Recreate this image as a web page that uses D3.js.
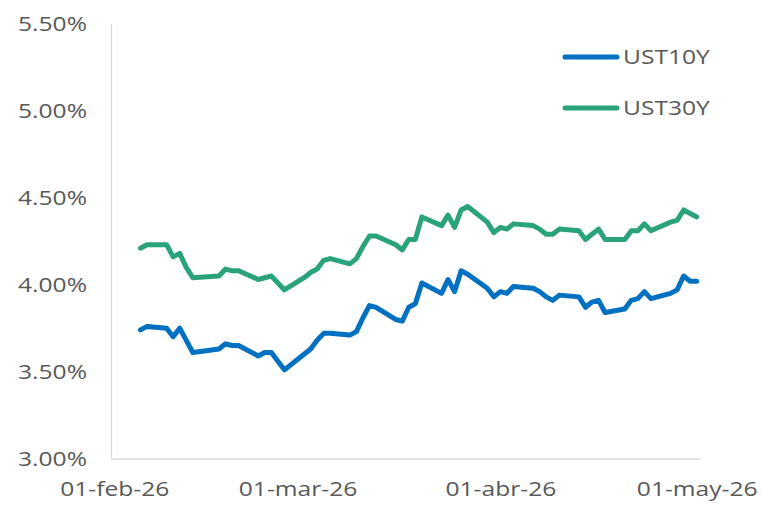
<!DOCTYPE html>
<html>
<head>
<meta charset="utf-8">
<script src="https://cdn.jsdelivr.net/npm/d3@7"></script>
<style>
  html, body { margin: 0; padding: 0; background: #ffffff; }
  svg { display: block; }
  text { font-family: "Open Sans", Lato, "DejaVu Sans", sans-serif; }
</style>
</head>
<body>
<svg id="chart" width="761" height="507"></svg>
<script>
const dates = ["2026-02-05","2026-02-06","2026-02-09","2026-02-10","2026-02-11","2026-02-12","2026-02-13","2026-02-17","2026-02-18","2026-02-19","2026-02-20","2026-02-23","2026-02-24","2026-02-25","2026-02-26","2026-02-27",
"2026-03-02","2026-03-03","2026-03-04","2026-03-05","2026-03-06","2026-03-09","2026-03-10","2026-03-11","2026-03-12","2026-03-13","2026-03-16","2026-03-17","2026-03-18","2026-03-19","2026-03-20","2026-03-23","2026-03-24","2026-03-25","2026-03-26","2026-03-27","2026-03-30","2026-03-31",
"2026-04-01","2026-04-02","2026-04-03","2026-04-06","2026-04-07","2026-04-08","2026-04-09","2026-04-10","2026-04-13","2026-04-14","2026-04-15","2026-04-16","2026-04-17","2026-04-20","2026-04-21","2026-04-22","2026-04-23","2026-04-24","2026-04-27","2026-04-28","2026-04-29","2026-04-30",
"2026-05-01"];

const ust10y = [3.74,3.76,3.75,3.70,3.75,3.68,3.61,3.63,3.66,3.65,3.65,3.59,3.61,3.61,3.56,3.51,
3.60,3.63,3.68,3.72,3.72,3.71,3.73,3.81,3.88,3.87,3.80,3.79,3.87,3.89,4.01,3.95,4.03,3.96,4.08,4.06,3.98,3.93,
3.96,3.95,3.99,3.98,3.96,3.93,3.91,3.94,3.93,3.87,3.90,3.91,3.84,3.86,3.91,3.92,3.96,3.92,3.95,3.97,4.05,4.02,
4.02];

const ust30y = [4.21,4.23,4.23,4.16,4.18,4.10,4.04,4.05,4.09,4.08,4.08,4.03,4.04,4.05,4.01,3.97,
4.04,4.07,4.09,4.14,4.15,4.12,4.15,4.22,4.28,4.28,4.23,4.20,4.26,4.26,4.39,4.34,4.40,4.33,4.43,4.45,4.36,4.30,
4.33,4.32,4.35,4.34,4.32,4.29,4.29,4.32,4.31,4.26,4.29,4.32,4.26,4.26,4.31,4.31,4.35,4.31,4.36,4.37,4.43,4.41,
4.39];

const seriesNames = ["UST10Y", "UST30Y"];
const seriesColors = ["#0070C0", "#2BA37A"];

const yTicks = [3.0, 3.5, 4.0, 4.5, 5.0, 5.5];
const xTickDates = ["2026-02-01", "2026-03-01", "2026-04-01", "2026-05-01"];
const monthNames = ["ene","feb","mar","abr","may","jun","jul","ago","sep","oct","nov","dic"];

const svg = d3.select("#chart");
const parse = d3.utcParse("%Y-%m-%d");

const plotLeft = 111, plotRight = 700, plotTop = 24, plotBottom = 458.5;
const fontSize = "20.5px";
const stretch = 1.2;

function stretchText(sel) {
  sel.each(function() {
    const t = d3.select(this);
    const x0 = +t.attr("x") || 0;
    t.attr("transform", `translate(${x0},0) scale(${stretch},1) translate(${-x0},0)`);
  });
}

// Date axis in day slots: first slot (1 Feb) starts half a day before it
const x = d3.scaleUtc()
  .domain([d3.utcHour.offset(parse("2026-02-01"), -12), d3.utcHour.offset(parse("2026-05-01"), 12)])
  .range([plotLeft, plotRight]);

const y = d3.scaleLinear().domain([3.0, 5.5]).range([plotBottom, plotTop]);

const axisColor = "#d9d9d9";
const textColor = "#595959";

// Y axis
const yAxis = d3.axisLeft(y)
  .tickValues(yTicks)
  .tickFormat(d => d.toFixed(2) + "%")
  .tickSize(0)
  .tickSizeOuter(0)
  .tickPadding(24);
const gy = svg.append("g").attr("transform", `translate(${plotLeft},0)`).call(yAxis);
gy.select(".domain").attr("stroke", axisColor).attr("stroke-width", 1.3);
gy.selectAll("text").attr("fill", textColor).style("font-size", fontSize)
  .style("font-family", "'Open Sans', Lato, sans-serif").call(stretchText);

// X axis
const xAxis = d3.axisBottom(x)
  .tickValues(xTickDates.map(parse))
  .tickFormat(d => d3.utcFormat("%d")(d) + "-" + monthNames[d.getUTCMonth()] + "-" + d3.utcFormat("%y")(d))
  .tickSize(0)
  .tickSizeOuter(0)
  .tickPadding(23);
const gx = svg.append("g").attr("transform", `translate(0,${plotBottom})`).call(xAxis);
gx.select(".domain").attr("stroke", axisColor).attr("stroke-width", 1.3);
gx.selectAll("text").attr("fill", textColor).style("font-size", fontSize)
  .style("font-family", "'Open Sans', Lato, sans-serif").call(stretchText);

// Lines
const parsedDates = dates.map(parse);
const line = d3.line()
  .x((d, i) => x(parsedDates[i]))
  .y(d => y(d));

[ust10y, ust30y].forEach((vals, k) => {
  svg.append("path")
    .datum(vals)
    .attr("d", line)
    .attr("fill", "none")
    .attr("stroke", seriesColors[k])
    .attr("stroke-width", 5)
    .attr("stroke-linejoin", "round")
    .attr("stroke-linecap", "round");
});

// Legend
const legend = svg.append("g");
seriesNames.forEach((name, k) => {
  const ly = 57 + k * 51;
  legend.append("line")
    .attr("x1", 565).attr("x2", 617)
    .attr("y1", ly).attr("y2", ly)
    .attr("stroke", seriesColors[k])
    .attr("stroke-width", 5)
    .attr("stroke-linecap", "round");
  legend.append("text")
    .attr("x", 623).attr("y", ly)
    .attr("dy", "0.35em")
    .attr("fill", textColor)
    .style("font-size", fontSize)
    .text(name)
    .call(stretchText);
});
</script>
</body>
</html>
